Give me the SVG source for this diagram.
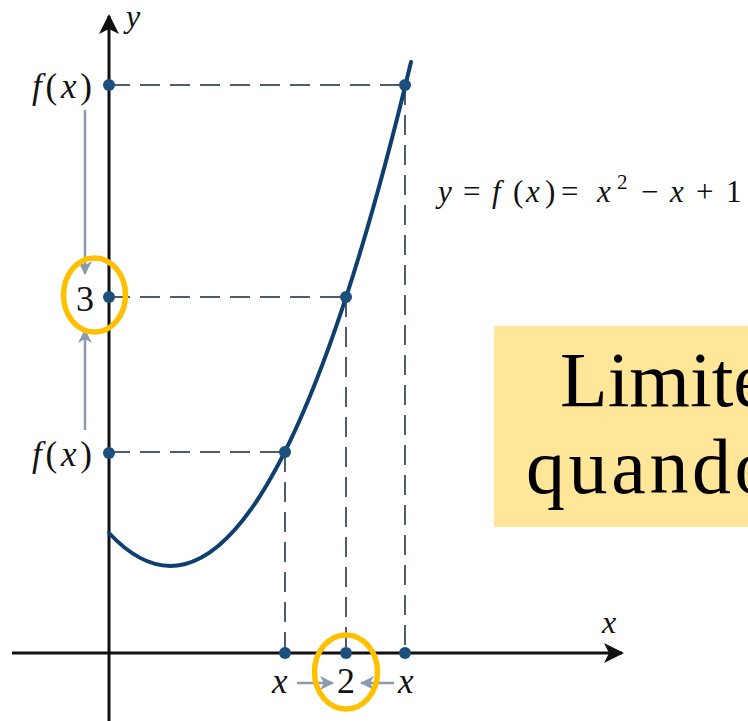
<svg xmlns="http://www.w3.org/2000/svg" width="748" height="721" viewBox="0 0 748 721">
<style>
.axis{stroke:#111;stroke-width:3;fill:none}
.dash{stroke:#4d5d6d;stroke-width:2;stroke-dasharray:20 10;fill:none}
.dot{fill:#1b4f7c}
.curve{stroke:#0e3f6e;stroke-width:4;fill:none;stroke-linecap:round}
.arr{stroke:#8a9bb0;stroke-width:2.5;fill:none}
.lbl{font-family:"Liberation Serif","Times New Roman",serif;fill:#111}
.it{font-style:italic}
.ring{fill:none;stroke:#FFC000;stroke-width:5.5}
.big{font-family:"Liberation Serif","Times New Roman",serif;font-size:78px;fill:#000}
</style>
<defs>
<marker id="axhead" viewBox="0 0 20 20" refX="18" refY="10" markerWidth="20" markerHeight="20" markerUnits="userSpaceOnUse" orient="auto">
<path d="M0,0 L20,10 L0,20 L5,10 Z" fill="#111"/>
</marker>
<marker id="gh" viewBox="0 0 14 14" refX="13" refY="7" markerWidth="14" markerHeight="14" markerUnits="userSpaceOnUse" orient="auto">
<path d="M0,0 L14,7 L0,14 L4,7 Z" fill="#8a9bb0"/>
</marker>
</defs>
<rect width="748" height="721" fill="#fff"/>

<g id="yellow-box">
<rect x="494" y="326" width="260" height="201" fill="#FFE699"/>
<text class="big" x="560" y="406">Limite</text>
<text class="big" x="526" y="493" letter-spacing="3.6">quando</text>
</g>

<g id="guides">
<path class="dash" d="M110,85 H405 M110,297 H346 M110,452 H285"/>
<path class="dash" d="M405,85 V653 M346,297 V653 M285,452 V653"/>
</g>

<g id="axes">
<line class="axis" x1="12" y1="653" x2="622" y2="653" marker-end="url(#axhead)"/>
<line class="axis" x1="109" y1="721" x2="109" y2="16" marker-end="url(#axhead)"/>
<text class="lbl it" x="126" y="27" font-size="32">y</text>
<text class="lbl it" x="602" y="633" font-size="32">x</text>
</g>

<g id="curve">
<path class="curve" d="M109,533 Q259.75,694.7 411,62"/>
</g>

<g id="points">
<circle class="dot" cx="109" cy="85" r="6"/>
<circle class="dot" cx="109" cy="297" r="6"/>
<circle class="dot" cx="109" cy="453" r="6"/>
<circle class="dot" cx="405" cy="85" r="6"/>
<circle class="dot" cx="346" cy="297" r="6"/>
<circle class="dot" cx="285" cy="452" r="6"/>
<circle class="dot" cx="285" cy="653" r="6"/>
<circle class="dot" cx="346" cy="653" r="6"/>
<circle class="dot" cx="405" cy="653" r="6"/>
</g>

<g id="connectors">
<line class="arr" x1="85" y1="110" x2="85" y2="274" marker-end="url(#gh)"/>
<line class="arr" x1="85" y1="430" x2="85" y2="330" marker-end="url(#gh)"/>
<line class="arr" x1="297" y1="683" x2="333" y2="683" marker-end="url(#gh)"/>
<line class="arr" x1="394" y1="683" x2="361" y2="683" marker-end="url(#gh)"/>
</g>

<g id="y-labels">
<text class="lbl" x="32" y="98" font-size="35" textLength="60" lengthAdjust="spacing"><tspan class="it">f</tspan>(<tspan class="it">x</tspan>)</text>
<text class="lbl" x="76" y="311" font-size="36">3</text>
<text class="lbl" x="32" y="466" font-size="35" textLength="60" lengthAdjust="spacing"><tspan class="it">f</tspan>(<tspan class="it">x</tspan>)</text>
</g>

<g id="x-labels">
<text class="lbl it" x="272" y="693" font-size="35">x</text>
<text class="lbl" x="346" y="693" font-size="36" text-anchor="middle">2</text>
<text class="lbl it" x="398" y="693" font-size="35">x</text>
</g>

<g id="equation" class="lbl" font-size="31">
<text y="202"><tspan class="it" x="438">y</tspan><tspan x="463">=</tspan><tspan class="it" x="492">f</tspan><tspan x="513">(</tspan><tspan class="it" x="526">x</tspan><tspan x="545">)</tspan><tspan x="561">=</tspan><tspan class="it" x="597">x</tspan><tspan x="617" y="189" font-size="21">2</tspan><tspan x="641" y="202">−</tspan><tspan class="it" x="670">x</tspan><tspan x="696">+</tspan><tspan x="726">1</tspan></text>
</g>

<g id="highlights">
<ellipse class="ring" cx="94.5" cy="295" rx="31" ry="37"/>
<ellipse class="ring" cx="346" cy="672" rx="31.5" ry="37"/>
</g>
</svg>
